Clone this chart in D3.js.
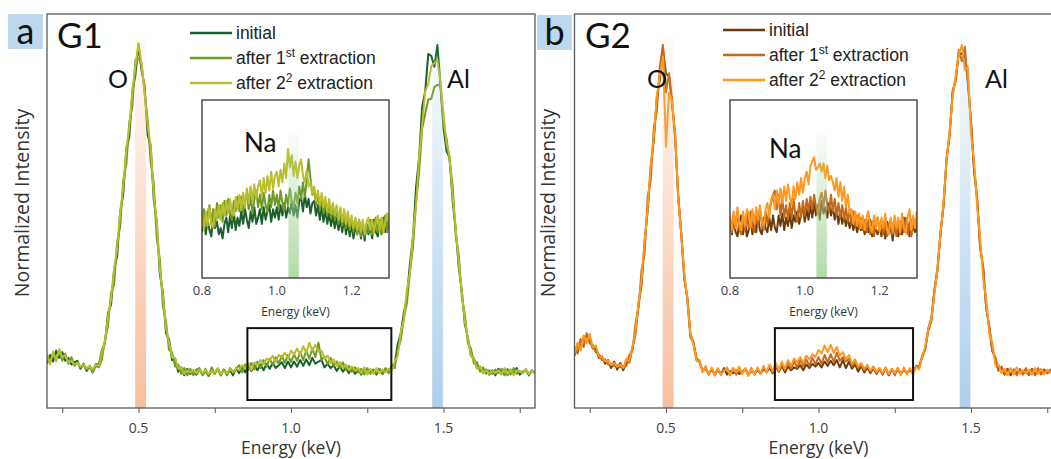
<!DOCTYPE html>
<html>
<head>
<meta charset="utf-8">
<script src="https://cdn.jsdelivr.net/npm/d3@7/dist/d3.min.js"></script>
<style>
  body { margin: 0; background: #fff; }
  svg { display: block; }
</style>
</head>
<body>
<div id="chart"></div>
<script>
// energy grids: main spectra every 0.01 keV from 0.2, inset every 0.005 keV from 0.8
const mainStart = 0.2, mainStep = 0.01;
const insetStart = 0.8, insetStep = 0.005;

// normalized intensity x1000, panel a (G1)
const g1Initial = [
  122,146,128,158,138,154,130,138,120,126,
  130,108,122,102,116,98,121,120,160,178,
  262,284,382,418,540,588,712,748,872,918,
  1000,930,888,752,722,574,510,368,318,206,
  190,132,136,100,112,90,108,94,104,92,
  106,92,102,88,104,96,108,90,106,94,
  104,90,110,96,114,98,116,102,118,104,
  120,104,122,108,124,110,118,126,110,128,
  112,128,114,132,116,134,118,138,122,128,
  132,112,122,110,118,102,116,100,110,96,
  112,94,108,92,110,96,100,106,92,108,
  94,108,98,116,122,176,206,262,304,398,
  470,608,690,830,872,975,970,940,1000,890,
  772,708,690,570,492,388,322,230,194,144,
  136,110,114,96,106,92,104,90,108,94,
  108,90,106,94,110,92,100,106,90,104,
  96];
const g1First = [
  142,124,152,132,160,130,150,122,140,116,
  126,112,118,106,114,98,116,112,134,188,
  226,318,340,458,500,628,670,788,832,960,
  962,950,866,796,676,620,466,410,280,240,
  160,154,114,120,94,110,90,108,90,106,
  110,90,108,88,112,94,108,90,106,90,
  110,100,108,118,98,120,104,124,106,128,
  110,132,114,136,118,140,122,144,124,146,
  126,148,130,154,132,158,136,164,140,180,
  132,142,120,138,116,128,110,126,106,116,
  100,112,98,108,92,110,94,104,96,108,
  96,110,96,114,110,158,188,248,288,374,
  444,566,650,770,810,850,852,884,890,890,
  780,742,680,612,476,422,306,258,178,164,
  122,126,100,112,94,104,94,106,96,108,
  90,108,92,110,94,102,96,106,92,104,
  96];
const g1Second = [
  148,120,156,128,162,140,146,126,130,120,
  124,114,120,110,116,106,120,116,154,184,
  252,300,384,440,542,608,716,772,878,944,
  1005,948,870,778,724,586,514,380,310,220,
  182,140,138,108,110,94,104,98,104,96,
  106,96,104,94,102,98,110,94,102,96,
  108,98,110,104,118,108,124,104,126,118,
  132,120,136,130,144,126,146,140,152,136,
  158,148,164,146,170,152,180,158,174,156,
  158,136,144,124,134,116,126,110,120,104,
  114,102,110,96,112,92,108,94,110,96,
  106,98,108,102,128,144,210,242,326,372,
  480,560,690,780,872,892,942,950,958,898,
  810,728,694,582,498,398,320,238,192,144,
  134,108,114,96,104,94,102,96,104,92,
  110,92,106,90,104,100,96,108,94,104,
  98];

// panel b (G2)
const g2Initial = [
  144,176,166,194,184,188,164,166,138,142,
  122,132,110,128,106,124,104,126,126,166,
  204,286,340,460,544,664,736,856,906,990,
  920,915,836,752,580,478,360,300,196,178,
  132,128,102,110,92,108,90,106,92,110,
  92,102,96,104,94,100,108,92,102,96,
  104,96,106,100,110,96,114,100,116,98,
  114,104,112,108,118,104,120,110,122,114,
  124,112,128,116,130,118,132,112,132,110,
  128,108,120,100,116,98,112,96,110,94,
  108,92,110,90,106,98,104,94,106,96,
  104,96,116,112,140,164,214,240,322,378,
  480,560,684,756,870,906,978,976,970,900,
  786,654,576,444,384,276,222,158,136,104,
  112,92,108,90,106,96,104,94,100,92,
  108,92,104,94,106,96,102,92,108,90,
  104];
const g2First = [
  168,150,190,168,206,178,174,154,148,132,
  134,120,122,116,118,112,116,116,146,158,
  232,278,380,428,582,628,772,818,942,1000,
  870,922,850,740,590,484,354,306,204,182,
  138,126,104,108,96,104,94,106,96,104,
  108,90,110,92,102,96,108,90,110,92,
  108,94,112,98,116,100,118,102,122,104,
  126,108,128,112,132,114,134,116,138,120,
  140,122,146,126,148,128,152,130,140,128,
  136,116,128,110,120,104,118,100,114,96,
  110,94,110,92,108,90,110,94,104,96,
  108,98,114,114,144,162,220,248,326,386,
  484,556,690,750,876,900,986,955,995,890,
  790,664,580,442,388,276,226,156,140,102,
  114,94,104,96,106,90,108,92,110,90,
  106,90,110,92,102,96,106,98,104,94,
  106];
const g2Second = [
  148,180,158,200,178,204,166,172,142,140,
  128,130,118,124,114,120,110,136,128,170,
  210,290,352,462,550,670,746,860,918,968,
  720,868,842,760,576,480,370,300,202,174,
  130,132,98,116,92,112,90,110,92,102,
  112,92,108,98,114,94,110,88,108,92,
  112,94,116,98,120,100,124,104,128,108,
  132,116,136,126,140,124,144,134,148,140,
  160,150,172,154,174,152,168,144,154,134,
  146,122,134,114,124,108,118,104,112,100,
  110,96,112,94,108,96,110,90,112,92,
  110,92,114,106,142,168,218,244,314,384,
  478,570,684,766,858,918,974,1000,932,938,
  756,680,558,470,356,300,206,180,118,120,
  96,108,90,110,92,112,94,104,96,106,
  92,110,94,108,92,106,98,104,94,108,
  92];

// insets, Na region 0.8 - 1.3 keV
const g1InsetInitial = [
  98,112,96,110,100,94,114,102,108,96,
  102,92,106,112,98,114,102,118,100,112,
  104,118,106,120,110,102,118,108,122,106,
  112,120,106,122,110,118,124,108,120,112,
  122,110,124,114,126,112,122,116,128,114,
  124,112,128,132,118,134,122,130,116,126,
  128,114,124,110,122,108,120,106,116,104,
  114,102,112,100,110,98,112,96,108,94,
  106,92,104,96,110,92,104,90,106,96,
  104,92,110,98,94,108,96,112,98,108,
  100];
const g1InsetFirst = [
  108,120,104,116,124,106,120,104,126,112,
  124,108,128,114,130,116,110,128,118,132,
  118,132,116,128,136,120,132,116,130,138,
  122,134,120,136,124,118,134,122,138,124,
  134,120,138,126,118,134,124,140,128,122,
  136,126,142,130,146,132,148,168,150,134,
  138,124,134,120,130,116,128,114,126,112,
  124,110,120,106,118,104,116,102,114,100,
  112,98,110,96,108,94,108,94,106,98,
  110,96,106,112,98,110,96,108,114,98,
  108];
const g1InsetSecond = [
  116,100,118,104,122,108,102,120,110,124,
  110,126,114,128,116,130,118,114,132,120,
  134,120,136,122,140,126,142,128,144,130,
  142,148,132,150,136,152,138,156,140,152,
  156,142,158,146,164,150,178,160,172,152,
  166,150,162,168,152,146,158,142,146,134,
  142,128,138,124,136,122,132,118,130,116,
  126,114,124,110,122,108,120,106,118,104,
  114,102,112,100,110,98,110,96,108,112,
  100,110,98,108,114,100,112,98,108,116,
  104];
const g2InsetInitial = [
  110,96,112,98,94,108,114,96,110,94,
  100,112,96,108,98,114,100,96,112,102,
  98,112,100,114,102,98,114,104,116,100,
  112,104,116,102,114,108,118,106,116,122,
  108,120,110,124,112,126,114,124,110,128,
  116,122,112,126,114,122,110,120,106,118,
  106,114,104,112,102,110,100,108,98,106,
  100,108,96,106,98,110,94,104,100,96,
  104,94,106,92,108,96,104,90,106,100,
  94,108,96,112,98,106,94,110,102,98,
  108];
const g2InsetFirst = [
  112,98,116,102,118,100,96,114,100,116,
  102,118,104,98,116,104,120,106,100,118,
  106,120,126,134,138,120,134,114,130,112,
  124,110,126,112,130,114,108,126,112,128,
  114,130,118,132,120,134,122,116,130,136,
  122,138,124,118,134,118,130,114,126,112,
  124,110,122,108,120,106,118,104,114,102,
  112,100,110,98,110,96,108,94,108,112,
  98,110,96,108,94,106,110,96,108,94,
  108,96,110,98,112,96,108,94,106,110,
  98];
const g2InsetSecond = [
  114,100,118,102,122,106,100,118,104,120,
  116,102,120,106,122,110,124,108,104,120,
  126,112,130,134,120,138,124,140,126,142,
  128,144,132,124,142,130,146,134,150,136,
  150,156,144,162,166,170,158,160,164,156,
  164,150,162,148,152,146,138,150,132,146,
  128,142,122,134,116,120,106,118,104,116,
  102,114,100,112,118,104,98,114,102,112,
  98,112,102,116,100,96,112,98,114,102,
  112,98,116,102,98,112,120,100,114,102,
  118];

const legendLabels = ["initial", "after 1", "after 2"];
const legendSup = ["", "st", "2"];
const xTicks = [0.25, 0.5, 0.75, 1.0, 1.25, 1.5, 1.75];
const xTickLabels = [0.5, 1.0, 1.5];
const insetTicks = [0.8, 1.0, 1.2];
const oBand = [0.489, 0.525];
const alBand = [1.463, 1.498];
const naBand = [1.031, 1.059];

const width = 1051, height = 459;
const svg = d3.select("#chart").append("svg")
  .attr("width", width).attr("height", height);
const defs = svg.append("defs");

function grad(id, color) {
  const g = defs.append("linearGradient").attr("id", id)
    .attr("x1", 0).attr("y1", 0).attr("x2", 0).attr("y2", 1);
  g.append("stop").attr("offset", "0%").attr("stop-color", color).attr("stop-opacity", 0.05);
  g.append("stop").attr("offset", "100%").attr("stop-color", color).attr("stop-opacity", 0.85);
}
grad("gradO", "#f4b48e");
grad("gradAl", "#9fc5e8");
grad("gradNa", "#a5d39b");

const panels = [
  {
    id: "a", title: "G1", x0: 47, x1: 535,
    series: [g1Initial, g1First, g1Second],
    inset: [g1InsetInitial, g1InsetFirst, g1InsetSecond],
    colors: ["#1c5f2c", "#6e9a2a", "#b9bf2c"],
    tag: [8, 14], titleX: 57, yTitleX: 29,
    legend: { x: 190, y: 33 },
    oX: 108, alX: 447,
    box: [0.857, 1.329],
    insetX: 202, naX: 244, naY: 152
  },
  {
    id: "b", title: "G2", x0: 574.5, x1: 1062.5,
    series: [g2Initial, g2First, g2Second],
    inset: [g2InsetInitial, g2InsetFirst, g2InsetSecond],
    colors: ["#6b3b0a", "#c2691a", "#ff9820"],
    tag: [537, 15], titleX: 585, yTitleX: 555,
    legend: { x: 723, y: 30 },
    oX: 647, alX: 985,
    box: [0.857, 1.31],
    insetX: 730, naX: 769, naY: 158
  }
];

const frameTop = 14, frameBottom = 408;
const y = d3.scaleLinear().domain([0, 1000]).range([frameBottom, 45]);

panels.forEach(p => {
  const x = d3.scaleLinear().domain([0.2, 1.8]).range([p.x0, p.x1]);
  const g = svg.append("g");

  defs.append("clipPath").attr("id", "clip" + p.id)
    .append("rect").attr("x", p.x0).attr("y", frameTop)
    .attr("width", p.x1 - p.x0).attr("height", frameBottom - frameTop);

  // spectra
  const line = d3.line()
    .x((d, i) => x(mainStart + i * mainStep))
    .y(d => y(d));
  const lines = g.append("g").attr("clip-path", `url(#clip${p.id})`);
  p.series.forEach((s, si) => {
    lines.append("path").datum(s)
      .attr("d", line)
      .attr("fill", "none")
      .attr("stroke", p.colors[si])
      .attr("stroke-width", 2)
      .attr("stroke-linejoin", "round");
  });

  // peak bands
  [[oBand, "gradO"], [alBand, "gradAl"]].forEach(([b, gid]) => {
    g.append("rect")
      .attr("x", x(b[0])).attr("width", x(b[1]) - x(b[0]))
      .attr("y", 37).attr("height", frameBottom - 37)
      .attr("fill", `url(#${gid})`);
  });

  // Na zoom box
  g.append("rect")
    .attr("x", x(p.box[0])).attr("width", x(p.box[1]) - x(p.box[0]))
    .attr("y", y(220)).attr("height", y(22) - y(220))
    .attr("fill", "none").attr("stroke", "#111").attr("stroke-width", 2);

  // frame
  g.append("rect")
    .attr("x", p.x0).attr("y", frameTop)
    .attr("width", p.x1 - p.x0).attr("height", frameBottom - frameTop)
    .attr("fill", "none").attr("stroke", "#5a5a5a").attr("stroke-width", 1.3);

  // x axis
  const axis = d3.axisBottom(x).tickValues(xTicks).tickSize(5).tickFormat("");
  const ax = g.append("g").attr("transform", `translate(0,${frameBottom})`).call(axis);
  ax.select(".domain").remove();
  ax.selectAll(".tick line").attr("stroke", "#5a5a5a");
  g.selectAll(".xl").data(xTickLabels).join("text")
    .attr("x", d => x(d)).attr("y", 433)
    .attr("text-anchor", "middle")
    .attr("font-family", "Open Sans, sans-serif").attr("font-size", 14)
    .attr("fill", "#404040")
    .text(d => d.toFixed(1));
  g.append("text")
    .attr("x", x(1.0)).attr("y", 454)
    .attr("text-anchor", "middle")
    .attr("font-family", "Open Sans, sans-serif").attr("font-size", 17.5)
    .attr("fill", "#333")
    .text("Energy (keV)");

  // y title
  g.append("text")
    .attr("transform", `translate(${p.yTitleX},203) rotate(-90)`)
    .attr("text-anchor", "middle")
    .attr("font-family", "Open Sans, sans-serif").attr("font-size", 19.5)
    .attr("fill", "#333")
    .text("Normalized Intensity");

  // panel tag
  g.append("rect").attr("x", p.tag[0]).attr("y", p.tag[1])
    .attr("width", 35).attr("height", 35).attr("fill", "#bdd7ee");
  g.append("text").attr("x", p.tag[0] + 17.5).attr("y", p.tag[1] + 30)
    .attr("text-anchor", "middle")
    .attr("font-family", "Lato, sans-serif").attr("font-size", 36)
    .attr("fill", "#111").text(p.id);
  g.append("text").attr("x", p.titleX).attr("y", 48)
    .attr("font-family", "Lato, sans-serif").attr("font-size", 35)
    .attr("fill", "#111").text(p.title);

  // peak labels
  g.append("text").attr("x", p.oX).attr("y", 88)
    .attr("font-family", "Lato, sans-serif").attr("font-size", 25)
    .attr("fill", "#111").text("O");
  g.append("text").attr("x", p.alX).attr("y", 88)
    .attr("font-family", "Lato, sans-serif").attr("font-size", 25)
    .attr("fill", "#111").text("Al");

  // legend
  legendLabels.forEach((lab, i) => {
    const ly = p.legend.y + i * 25;
    g.append("line")
      .attr("x1", p.legend.x).attr("x2", p.legend.x + 42)
      .attr("y1", ly).attr("y2", ly)
      .attr("stroke", p.colors[i]).attr("stroke-width", 2.5);
    const t = g.append("text")
      .attr("x", p.legend.x + 46).attr("y", ly + 6)
      .attr("font-family", "Liberation Sans, Arial, sans-serif").attr("font-size", 17.5)
      .attr("fill", "#222");
    t.append("tspan").text(lab);
    if (legendSup[i]) {
      t.append("tspan").attr("dy", -7).attr("font-size", 12).text(legendSup[i]);
      t.append("tspan").attr("dy", 7).text(" extraction");
    }
  });

  // inset
  const ix = d3.scaleLinear().domain([0.8, 1.3]).range([p.insetX, p.insetX + 187]);
  const iy = d3.scaleLinear().domain([54, 225]).range([278, 100]);
  const ig = g.append("g");
  ig.append("rect").attr("x", ix(0.8)).attr("y", 100)
    .attr("width", 187).attr("height", 178).attr("fill", "#fff");
  defs.append("clipPath").attr("id", "iclip" + p.id)
    .append("rect").attr("x", ix(0.8)).attr("y", 100)
    .attr("width", 187).attr("height", 178);
  const iline = d3.line()
    .x((d, i) => ix(insetStart + i * insetStep))
    .y(d => iy(d));
  const il = ig.append("g").attr("clip-path", `url(#iclip${p.id})`);
  p.inset.forEach((s, si) => {
    il.append("path").datum(s)
      .attr("d", iline)
      .attr("fill", "none")
      .attr("stroke", p.colors[si])
      .attr("stroke-width", 2)
      .attr("stroke-linejoin", "round");
  });
  ig.append("rect")
    .attr("x", ix(naBand[0])).attr("width", ix(naBand[1]) - ix(naBand[0]))
    .attr("y", 133).attr("height", 278 - 133)
    .attr("fill", "url(#gradNa)");
  ig.append("rect").attr("x", ix(0.8)).attr("y", 100)
    .attr("width", 187).attr("height", 178)
    .attr("fill", "none").attr("stroke", "#333").attr("stroke-width", 1.3);
  ig.selectAll(".il").data(insetTicks).join("text")
    .attr("x", d => ix(d)).attr("y", 295)
    .attr("text-anchor", "middle")
    .attr("font-family", "Open Sans, sans-serif").attr("font-size", 13)
    .attr("fill", "#404040")
    .text(d => d.toFixed(1));
  ig.append("text").attr("x", ix(1.05)).attr("y", 316)
    .attr("text-anchor", "middle")
    .attr("font-family", "Open Sans, sans-serif").attr("font-size", 12)
    .attr("fill", "#333").text("Energy (keV)");
  ig.append("text").attr("x", p.naX).attr("y", p.naY)
    .attr("font-family", "Lato, sans-serif").attr("font-size", 26)
    .attr("fill", "#111").text("Na");
});
</script>
</body>
</html>
